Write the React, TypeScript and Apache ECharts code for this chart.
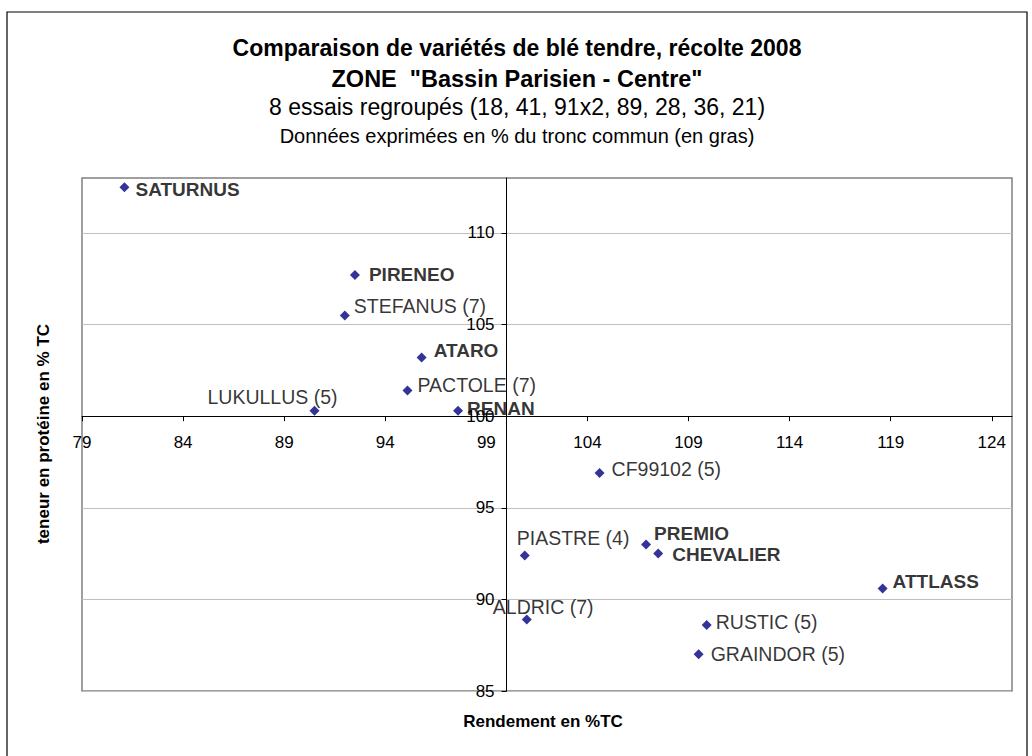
import React, { useEffect, useRef } from "react";
import * as echarts from "echarts";

// ---- data ----
const varieties = [
  "SATURNUS", "PIRENEO", "STEFANUS (7)", "ATARO", "PACTOLE (7)", "LUKULLUS (5)", "RENAN",
  "CF99102 (5)", "PIASTRE (4)", "PREMIO", "CHEVALIER", "ATTLASS", "ALDRIC (7)", "RUSTIC (5)", "GRAINDOR (5)",
];
const rendement = [81.1, 92.5, 92.0, 95.8, 95.1, 90.5, 97.6, 104.6, 100.9, 106.9, 107.5, 118.6, 101.0, 109.9, 109.5];
const proteine = [112.5, 107.7, 105.5, 103.2, 101.4, 100.3, 100.3, 96.9, 92.4, 93.0, 92.5, 90.6, 88.9, 88.6, 87.0];
const troncCommun = [true, true, false, true, false, false, true, false, false, true, true, true, false, false, false];
const xTickLabels = [79, 84, 89, 94, 99, 104, 109, 114, 119, 124];
const yTickLabels = [85, 90, 95, 100, 105, 110];
const xRange = [79, 125];
const yRange = [85, 113];
const crossing = 100; // axes cross at 100 % TC

const titleLines = [
  "Comparaison de variétés de blé tendre, récolte 2008",
  'ZONE  "Bassin Parisien - Centre"',
  "8 essais regroupés (18, 41, 91x2, 89, 28, 36, 21)",
  "Données exprimées en % du tronc commun (en gras)",
];
const xTitle = "Rendement en %TC";
const yTitle = "teneur en protéine en % TC";

// ---- label layout (offset from the marker, text alignment) ----
const labelPlacement: Record<string, [number, number, "left" | "right"]> = {
  "SATURNUS": [11, 2, "left"],
  "PIRENEO": [14, -1, "left"],
  "STEFANUS (7)": [9, -9, "left"],
  "ATARO": [12, -7, "left"],
  "PACTOLE (7)": [10, -6, "left"],
  "LUKULLUS (5)": [23, -14, "right"],
  "RENAN": [9, -2, "left"],
  "CF99102 (5)": [12, -4, "left"],
  "PIASTRE (4)": [-8, -17, "left"],
  "PREMIO": [8, -11, "left"],
  "CHEVALIER": [14, 1, "left"],
  "ATTLASS": [10, -7, "left"],
  "ALDRIC (7)": [-34, -13, "left"],
  "RUSTIC (5)": [9, -3, "left"],
  "GRAINDOR (5)": [12, 0, "left"],
};

const FONT = "'Liberation Sans', Arial, sans-serif";

export default function App() {
  const ref = useRef<HTMLDivElement>(null);

  useEffect(() => {
    if (!ref.current) return;
    const chart = echarts.init(ref.current, undefined, { renderer: "svg" });

    const data = varieties.map((name, i) => {
      const [dx, dy, align] = labelPlacement[name];
      const bold = troncCommun[i];
      return {
        name,
        value: [rendement[i], proteine[i]],
        label: {
          show: true,
          position: "inside",
          align,
          verticalAlign: "middle",
          offset: [dx, dy],
          formatter: name,
          fontFamily: FONT,
          fontSize: bold ? 19 : 19.5,
          fontWeight: bold ? "bold" : "normal",
          color: "#000",
        },
      };
    });

    const titleSizes = [23, 23.5, 23, 20];
    const titleWeights = ["bold", "bold", "normal", "normal"];
    const titleY = [48, 79, 107, 136];

    chart.setOption({
      animation: false,
      backgroundColor: "#fff",
      grid: {
        left: 82,
        right: 20,
        top: 178,
        bottom: 65,
        show: true,
        borderColor: "#808080",
        borderWidth: 1.5,
      },
      xAxis: {
        type: "value",
        min: xRange[0],
        max: xRange[1],
        axisLine: { show: true, onZero: false, lineStyle: { color: "#000", width: 1 } },
        axisTick: {
          show: true,
          length: 5,
          customValues: xTickLabels,
          lineStyle: { color: "#000" },
        },
        axisLabel: {
          customValues: xTickLabels,
          margin: 18,
          fontFamily: FONT,
          fontSize: 17,
          color: "#000",
        },
        splitLine: { show: false },
      },
      yAxis: {
        type: "value",
        min: yRange[0],
        max: yRange[1],
        interval: 5,
        axisLine: { show: true, onZero: false, lineStyle: { color: "#000", width: 1 } },
        axisTick: {
          show: true,
          length: 5,
          customValues: yTickLabels,
          lineStyle: { color: "#000" },
        },
        axisLabel: {
          customValues: yTickLabels,
          margin: 12,
          fontFamily: FONT,
          fontSize: 17,
          color: "#000",
        },
        splitLine: { show: true, lineStyle: { color: "#c0c0c0", width: 1 } },
      },
      series: [
        {
          type: "scatter",
          symbol: "diamond",
          symbolSize: 10,
          itemStyle: { color: "#000080" },
          data,
          z: 3,
        },
      ],
      graphic: [
        {
          type: "rect",
          shape: { x: 7, y: 12, width: 1020, height: 760 },
          style: { fill: "none", stroke: "#000", lineWidth: 1.2 },
          silent: true,
        },
        ...titleLines.map((t, i) => ({
          type: "text",
          x: 517,
          y: titleY[i],
          style: {
            text: t,
            align: "center",
            verticalAlign: "middle",
            fontFamily: FONT,
            fontSize: titleSizes[i],
            fontWeight: titleWeights[i],
            fill: "#000",
          },
        })),
        {
          type: "text",
          x: 543,
          y: 721,
          style: {
            text: xTitle,
            align: "center",
            verticalAlign: "middle",
            fontFamily: FONT,
            fontSize: 17,
            fontWeight: "bold",
            fill: "#000",
          },
        },
        {
          type: "text",
          x: 43,
          y: 434,
          rotation: Math.PI / 2,
          style: {
            text: yTitle,
            align: "center",
            verticalAlign: "middle",
            fontFamily: FONT,
            fontSize: 17,
            fontWeight: "bold",
            fill: "#000",
          },
        },
      ],
    });

    // Move both axes so they cross at 100 % TC (value taken from the scales)
    const origin = chart.convertToPixel({ gridIndex: 0 }, [crossing, crossing]) as number[];
    const corner = chart.convertToPixel({ gridIndex: 0 }, [xRange[0], yRange[0]]) as number[];
    chart.setOption({
      xAxis: { offset: origin[1] - corner[1] },
      yAxis: { offset: corner[0] - origin[0] },
    });

    return () => chart.dispose();
  }, []);

  return (
    <div
      ref={ref}
      style={{ position: "absolute", left: 0, top: 0, width: 1032, height: 756 }}
    />
  );
}
